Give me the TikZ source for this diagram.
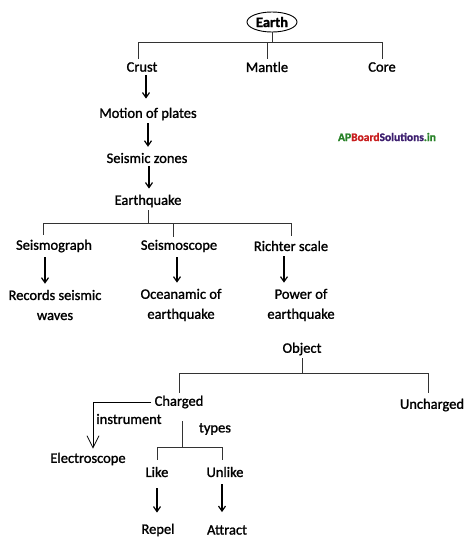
\documentclass[tikz,border=0pt]{standalone}
\usepackage{fontspec}
\setmainfont{Carlito}[RawFeature={embolden=1.3}]
\usepackage{tikz}
\usetikzlibrary{arrows.meta,shapes.geometric}
\definecolor{wmgreen}{RGB}{40,130,40}
\definecolor{wmred}{RGB}{200,30,30}
\definecolor{wmblue}{RGB}{60,30,110}
\tikzset{
  label/.style={align=center, inner sep=3pt, font=\fontsize{14.5}{20}\selectfont},
  root/.style={ellipse, draw=black, line width=0.9pt, inner sep=0.5pt, minimum width=50pt, minimum height=20pt, font=\fontsize{14.5}{18}\selectfont\bfseries},
  note/.style={inner sep=1pt, font=\fontsize{14.5}{18}\selectfont},
  tree/.style={line width=0.8pt, black!80},
  arrow/.style={-{Straight Barb[length=5pt,width=7pt]}, line width=1.2pt},
  openarrow/.style={-{Straight Barb[length=12pt,width=12pt]}, line width=0.8pt},
  stamp/.style={inner sep=0pt, font=\fontsize{11.5}{14}\selectfont\bfseries}
}
\begin{document}
\begin{tikzpicture}[x=1pt, y=-1pt]
\useasboundingbox (0,0) rectangle (474,541);
% earth tree
\node[root] (earth) at (272,22) {Earth};
\node[label] (crust) at (142,67) {Crust};
\node[label] (mantle) at (267,67) {Mantle};
\node[label] (core) at (382,67) {Core};
\coordinate (bar1) at (0,42);
\draw[tree] (earth.south) -- (earth.south |- bar1);
\draw[tree] ([xshift=-4pt]crust.north) -- ([xshift=-4pt]crust.north |- bar1) -- (core.north |- bar1) -- (core.north);
\draw[tree] (mantle.north) -- (mantle.north |- bar1);
% chain down to earthquake
\node[label] (motion) at (148,114) {Motion of plates};
\node[label] (zones) at (147,158) {Seismic zones};
\node[label] (quake) at (148,201) {Earthquake};
\draw[arrow, shorten >=6pt] ([xshift=4pt]crust.south) -- ([xshift=-2pt]motion.north);
\draw[arrow, shorten >=3pt] (motion.south) -- (motion.south |- zones.north);
\draw[arrow, shorten >=3pt] ([xshift=2pt]zones.south) -- ([xshift=2pt]zones.south |- quake.north);
% instruments
\node[label] (sgraph) at (54,246) {Seismograph};
\node[label] (sscope) at (179,246) {Seismoscope};
\node[label] (richter) at (291,246) {Richter scale};
\coordinate (bar2) at (0,223);
\draw[tree] (quake.south) -- (quake.south |- bar2);
\draw[tree] ([xshift=-11pt,yshift=2pt]sgraph.north) -- ([xshift=-11pt]sgraph.north |- bar2) -- (richter.north |- bar2) -- ([yshift=2pt]richter.north);
\draw[tree] ([xshift=-6pt]sscope.north |- bar2) -- ([xshift=-6pt]sscope.north);
\node[label] (records) at (55,305) {Records seismic\\waves};
\node[label] (ocean) at (181,305) {Oceanamic of\\earthquake};
\node[label] (power) at (301,305) {Power of\\earthquake};
\draw[arrow, shorten <=2pt, shorten >=3pt] ([xshift=-9pt]sgraph.south) -- ([xshift=-10pt]records.north);
\draw[arrow, shorten <=2pt, shorten >=3pt] ([xshift=-2pt]sscope.south) -- ([xshift=-4pt]ocean.north);
\draw[arrow, shorten <=2pt, shorten >=3pt] ([xshift=-7pt]richter.south) -- ([xshift=-17pt]power.north);
% watermark
\node[stamp] (site) at (387,137) {\textcolor{wmgreen}{AP}\textcolor{wmred}{Board}\textcolor{wmblue}{Solutions}\textcolor{wmgreen}{.in}};
% object tree
\node[label] (object) at (302,349) {Object};
\node[label] (charged) at (179,402) {Charged};
\node[label] (uncharged) at (432,405) {Uncharged};
\coordinate (bar3) at (0,373);
\draw[tree] (object.south) -- (object.south |- bar3);
\draw[tree] (charged.north) -- (charged.north |- bar3) -- ([xshift=-4pt]uncharged.north |- bar3) -- ([xshift=-4pt,yshift=3pt]uncharged.north);
\node[label] (elscope) at (88,459) {Electroscope};
\node[note] (instr) at (129,419) {instrument};
\draw[openarrow] (charged.west) -| ([xshift=5pt,yshift=1pt]elscope.north);
\node[label] (like) at (157,472) {Like};
\node[label] (unlike) at (225,472) {Unlike};
\node[note] (types) at (215,429) {types};
\coordinate (bar4) at (0,447);
\draw[tree] ([xshift=3pt,yshift=-10pt]charged.south) -- ([xshift=3pt]charged.south |- bar4);
\draw[tree] ([yshift=4pt]like.north) -- (like.north |- bar4) -- ([xshift=-3pt]unlike.north |- bar4) -- ([xshift=-3pt,yshift=4pt]unlike.north);
\node[label] (repel) at (158,530) {Repel};
\node[label] (attract) at (227,530) {Attract};
\draw[arrow, shorten <=8pt, shorten >=8pt] (like.south) -- (like.south |- repel.north);
\draw[arrow, shorten <=4pt, shorten >=10pt] ([xshift=-3pt]unlike.south) -- ([xshift=-3pt]unlike.south |- attract.north);
\end{tikzpicture}
\end{document}
